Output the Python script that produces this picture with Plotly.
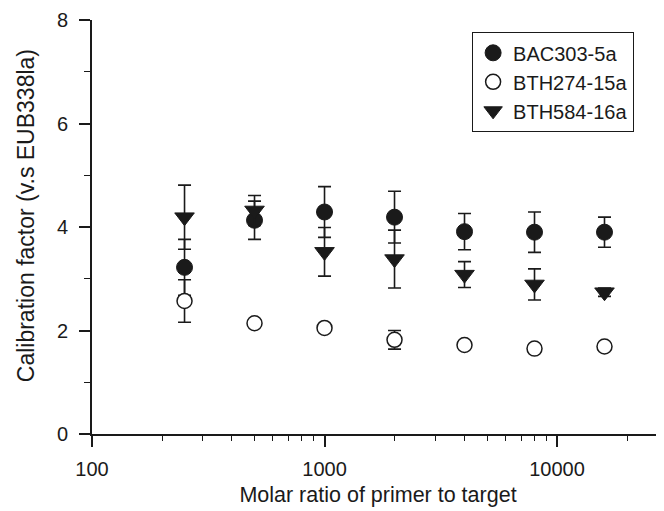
import plotly.graph_objects as go

ratios = [250, 500, 1000, 2000, 4000, 8000, 16000]

bac_vals = [3.22, 4.13, 4.29, 4.19, 3.91, 3.90, 3.90]
bac_err = [0.54, 0.37, 0.49, 0.50, 0.35, 0.39, 0.29]

bth274_vals = [2.57, 2.14, 2.05, 1.82, 1.72, 1.65, 1.69]
bth274_err = [0.41, 0.05, 0.05, 0.18, 0.08, 0.06, 0.06]

bth584_vals = [4.19, 4.32, 3.52, 3.38, 3.08, 2.89, 2.74]
bth584_err = [0.62, 0.29, 0.47, 0.56, 0.25, 0.30, 0.08]

x_title = "Molar ratio of primer to target"
y_title = "Calibration factor (v.s EUB338la)"

font = "Liberation Sans, Arial, sans-serif"
black = "#1a1a1a"

def err(vals):
    return dict(type="data", array=vals, visible=True, color=black, thickness=1.6, width=6.5)

fig = go.Figure()
fig.add_trace(go.Scatter(
    x=ratios, y=bac_vals, mode="markers", name="BAC303-5a",
    marker=dict(symbol="circle", size=16, color=black, line=dict(color=black, width=1)),
    error_y=err(bac_err)))
fig.add_trace(go.Scatter(
    x=ratios, y=bth274_vals, mode="markers", name="BTH274-15a",
    marker=dict(symbol="circle", size=15, color="white", line=dict(color=black, width=1.5)),
    error_y=err(bth274_err)))
fig.add_trace(go.Scatter(
    x=ratios, y=bth584_vals, mode="markers", name="BTH584-16a",
    marker=dict(symbol="triangle-down", size=17, color=black, line=dict(color=black, width=1)),
    error_y=err(bth584_err)))

# the page body adds an 8 px offset, so the figure is 8 px smaller than the window
fig.update_layout(
    width=656, height=503,
    margin=dict(l=84, r=0, t=12, b=77),
    paper_bgcolor="white", plot_bgcolor="white",
    font=dict(family=font, size=20, color=black),
    showlegend=True,
    legend=dict(x=0.664, y=0.971, xanchor="left", yanchor="top",
                bordercolor=black, borderwidth=1.3, bgcolor="white",
                font=dict(size=20), tracegroupgap=0, itemsizing="trace"),
    xaxis=dict(
        type="log", range=[2, 4.46], dtick=1, tickformat="d",
        showline=True, linecolor=black, linewidth=1.6,
        ticks="outside", ticklen=11, tickwidth=1.6, tickcolor=black,
        ticklabelstandoff=5,
        minor=dict(ticks="outside", ticklen=5, tickwidth=1.4, tickcolor=black, dtick="D1"),
        showgrid=False, zeroline=False,
        title=dict(text=x_title, standoff=8, font=dict(size=21.5)),
        tickfont=dict(size=20),
    ),
    yaxis=dict(
        range=[0, 8], dtick=2,
        showline=True, linecolor=black, linewidth=1.6,
        ticks="outside", ticklen=11, tickwidth=1.6, tickcolor=black,
        ticklabelstandoff=7,
        minor=dict(ticks="outside", ticklen=6, tickwidth=1.4, tickcolor=black, dtick=1),
        showgrid=False, zeroline=False,
        tickfont=dict(size=20),
    ),
    annotations=[dict(
        text=y_title, textangle=-90, xref="paper", yref="paper",
        x=-0.114, y=0.528, xanchor="center", yanchor="middle",
        showarrow=False, font=dict(size=23))],
)

fig.write_html("out.html")
